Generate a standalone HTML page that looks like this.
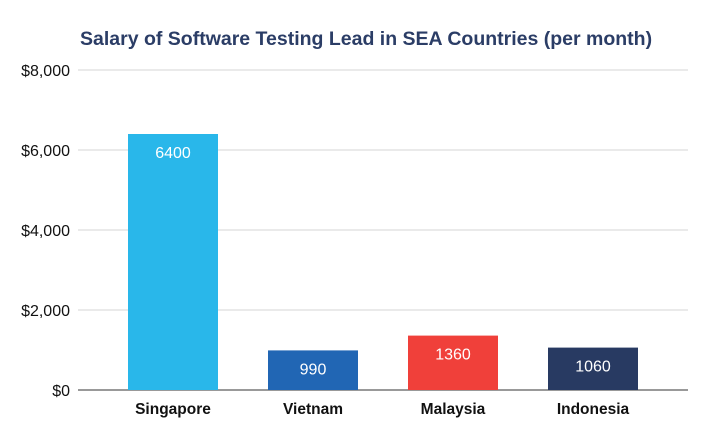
<!DOCTYPE html>
<html><head><meta charset="utf-8"><style>
body{margin:0;background:#fff;width:709px;height:439px;overflow:hidden;font-family:"Liberation Sans",sans-serif}
</style></head><body>
<svg width="709" height="439">
<text x="80" y="45" font-size="19.5" font-weight="bold" fill="#2b3d66">Salary of Software Testing Lead in SEA Countries (per month)</text>
<g id="grid"></g><g id="bars"></g>
</svg>
<script>
const categories=["Singapore","Vietnam","Malaysia","Indonesia"];
const values=[6400,990,1360,1060];
const colors=["#29b7ea","#2166b4","#f0403a","#283a62"];
const ticks=[0,2000,4000,6000,8000];
const tickLabels=["$0","$2,000","$4,000","$6,000","$8,000"];
const NS="http://www.w3.org/2000/svg";
const y=v=>390-v*0.04;
const x=i=>173+i*140;
const grid=document.getElementById('grid'),bars=document.getElementById('bars');
function mk(tag,attrs,parent,txt){const e=document.createElementNS(NS,tag);for(const k in attrs)e.setAttribute(k,attrs[k]);if(txt!=null)e.textContent=txt;parent.appendChild(e);return e;}
ticks.forEach((t,i)=>{
 const l=mk('line',{x1:78,x2:688,y1:y(t),y2:y(t),stroke:t===0?'#333':'#dedede','stroke-width':t===0?1:1.3},grid);
 
 
 const tx=mk('text',{x:70,y:y(t)+6,'text-anchor':'end','font-size':16,fill:'#111'},grid,tickLabels[i]);
 
 
});
categories.forEach((c,i)=>{
 const r=mk('rect',{x:x(i)-45,y:y(values[i]),width:90,height:390-y(values[i]),fill:colors[i]},bars);
 
 
 const v=mk('text',{x:x(i),y:y(values[i])+24,'text-anchor':'middle','font-size':16,fill:'#fff'},bars,String(values[i]));
 
 
 const t=mk('text',{x:x(i),y:414,'text-anchor':'middle','font-size':15.5,'font-weight':'bold',fill:'#111'},bars,c);
 
 
});
</script>
</body></html>
